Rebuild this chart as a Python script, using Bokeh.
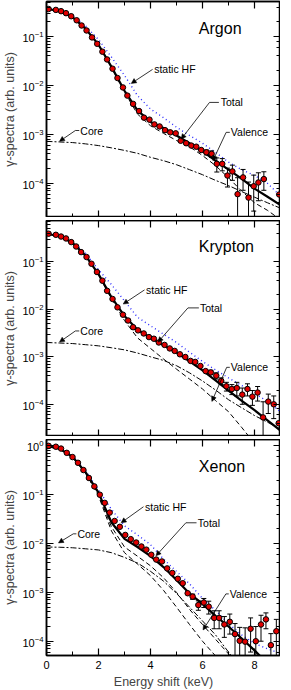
import numpy as np
from bokeh.plotting import figure
from bokeh.models import (LinearAxis, LogAxis, FixedTicker, Range1d, Arrow, NormalHead)
from bokeh.layouts import column
from bokeh.embed import file_html
from bokeh.resources import INLINE
from bokeh.core.properties import value

FONT = "Liberation Sans"

# ---------------- data ----------------
E_grid = [0, 0.5, 1, 1.5, 2, 2.5, 3, 3.5, 4, 4.5, 5, 5.5, 6, 6.5, 7, 7.5, 8, 8.5, 9]

x_ticks = [0, 2, 4, 6, 8]
x_minor = [1, 3, 5, 7]

# Argon
ar_E = [0.08, 0.36, 0.56, 0.75, 0.95, 1.16, 1.35, 1.54, 1.75, 1.95, 2.15, 2.33, 2.54, 2.73, 2.94,
        3.11, 3.33, 3.56, 3.75, 3.96, 4.15, 4.35, 4.56, 4.76, 4.97, 5.16, 5.37, 5.57, 5.76, 5.95,
        6.15, 6.35, 6.55, 6.76, 6.96, 7.15, 7.35, 7.56, 7.77, 7.97, 8.15, 8.36, 8.95]
ar_y = [0.365, 0.35, 0.33, 0.30, 0.26, 0.215, 0.168, 0.133, 0.096, 0.071, 0.049, 0.034, 0.022, 0.0142, 0.0091,
        0.0062, 0.0042, 0.0030, 0.0022, 0.0020, 0.0016, 0.00145, 0.00122, 0.0011, 0.00105, 0.00074, 0.00066,
        0.00059, 0.00056, 0.00048, 0.00043, 0.0004, 0.00025, 0.00025, 0.000144, 0.000175, 6e-5, 0.000132,
        5.1e-5, 8.7e-5, 0.000104, 0.000122, 5.9e-5]
ar_err = [0] * 30 + [5e-5, 6e-5, 8e-5, 7e-5, 6e-5, 6e-5, 7e-5, 6e-5, 5.5e-5, 6e-5, 6e-5, 5e-5, 0]
ar_total = [0.37, 0.33, 0.25, 0.145, 0.068, 0.024, 0.0078, 0.0031, 0.0018, 0.00135, 9.5e-4, 6.6e-4,
            4.5e-4, 2.9e-4, 1.9e-4, 1.25e-4, 7.8e-5, 5.3e-5, 3.6e-5]
ar_static = [0.37, 0.34, 0.27, 0.165, 0.087, 0.038, 0.016, 0.0062, 0.0033, 0.0022, 0.0014, 9.5e-4,
             6.6e-4, 4.3e-4, 2.7e-4, 1.9e-4, 1.45e-4, 1.0e-4, 5.5e-5]
ar_valence = [0.369, 0.329, 0.249, 0.144, 0.067, 0.0235, 0.0073, 0.0026, 0.0015, 0.00105, 7.5e-4, 5.6e-4,
              3.7e-4, 2.3e-4, 1.3e-4, 7e-5, 4e-5, 2.8e-5, 1.8e-5]
ar_core = [7.2e-4, 7.0e-4, 6.8e-4, 6.4e-4, 5.9e-4, 5.3e-4, 4.7e-4, 4.1e-4, 3.4e-4, 2.9e-4, 2.4e-4, 1.9e-4,
           1.5e-4, 1.15e-4, 9e-5, 6.8e-5, 5.2e-5, 4e-5, 3.1e-5]

# Krypton
kr_E = [0.08, 0.36, 0.56, 0.75, 0.95, 1.14, 1.33, 1.54, 1.73, 1.94, 2.15, 2.33, 2.54, 2.73, 2.94,
        3.14, 3.33, 3.52, 3.74, 3.94, 4.13, 4.32, 4.54, 4.74, 4.93, 5.13, 5.34, 5.54, 5.72, 5.92,
        6.12, 6.32, 6.53, 6.72, 6.92, 7.13, 7.32, 7.53, 7.73, 7.92, 8.12, 8.33, 8.53, 8.74, 8.93]
kr_y = [0.39, 0.37, 0.34, 0.31, 0.26, 0.21, 0.16, 0.126, 0.091, 0.061, 0.040, 0.0245, 0.0165, 0.011, 0.0077,
        0.0058, 0.0042, 0.0036, 0.0031, 0.0026, 0.0024, 0.0020, 0.00178, 0.0015, 0.00133, 0.00113, 0.00099,
        0.00082, 0.00078, 0.00064, 0.0005, 0.00047, 0.0004, 0.00031, 0.00024, 0.00021, 0.00022, 0.00016,
        0.00021, 0.000145, 0.000177, 5.3e-5, 0.000114, 0.0001, 4e-5]
kr_err = [0] * 31 + [5e-5, 6e-5, 5e-5, 5e-5, 5e-5, 7e-5, 6e-5, 6e-5, 5e-5, 6e-5, 6e-5, 5e-5, 5e-5, 0]
kr_total = [0.39, 0.345, 0.25, 0.135, 0.055, 0.018, 0.0072, 0.0037, 0.0025, 0.00175, 0.00122, 8.0e-4,
            5.2e-4, 3.2e-4, 1.95e-4, 1.2e-4, 7.5e-5, 4.6e-5, 2.8e-5]
kr_static = [0.39, 0.35, 0.26, 0.15, 0.068, 0.033, 0.015, 0.0068, 0.0045, 0.003, 0.002, 0.00125,
             8e-4, 5.3e-4, 3.6e-4, 2.5e-4, 1.7e-4, 1.15e-4, 7e-5]
kr_valence = [0.388, 0.343, 0.248, 0.133, 0.053, 0.0165, 0.0058, 0.0025, 0.0015, 9e-4, 5.5e-4, 3.4e-4,
              2.1e-4, 1.2e-4, 7e-5, 3.3e-5, 1.5e-5, 7e-6, 3.5e-6]
kr_core = [0.0020, 0.00195, 0.0019, 0.0018, 0.0017, 0.00155, 0.0014, 0.0012, 0.001, 8.4e-4, 6.5e-4, 4.6e-4,
           3.1e-4, 2.0e-4, 1.25e-4, 8.5e-5, 5.8e-5, 4.2e-5, 3e-5]

# Xenon
xe_E = [0.08, 0.36, 0.56, 0.78, 1.0, 1.21, 1.42, 1.63, 1.84, 2.05, 2.24, 2.43, 2.62, 2.82, 3.03,
        3.24, 3.45, 3.65, 3.84, 4.03, 4.22, 4.44, 4.64, 4.84, 5.05, 5.24, 5.43, 5.62, 5.84, 6.05,
        6.24, 6.45, 6.64, 6.84, 7.05, 7.25, 7.43, 7.64, 7.85, 8.05, 8.25, 8.44, 8.63, 8.84]
xe_y = [1.0, 0.96, 0.88, 0.72, 0.59, 0.45, 0.32, 0.22, 0.148, 0.10, 0.068, 0.043, 0.029, 0.022, 0.015,
        0.0123, 0.0105, 0.0087, 0.0075, 0.0059, 0.0047, 0.0043, 0.0031, 0.0025, 0.0019, 0.00154, 9.6e-4,
        8.2e-4, 5.5e-4, 6.2e-4, 5.1e-4, 3.0e-4, 3.0e-4, 2.2e-4, 2.5e-4, 1.4e-4, 1.02e-4, 9.8e-5, 1.8e-4,
        1.0e-4, 2.2e-4, 2.8e-4, 8.3e-5, 1.6e-4]
xe_err = [0] * 27 + [1.0e-4, 1.2e-4, 1.3e-4, 1.5e-4, 1.2e-4, 1.2e-4, 1.0e-4, 1.1e-4, 0.9e-4, 0.9e-4,
                     0.9e-4, 1.2e-4, 1.0e-4, 1.2e-4, 1.0e-4, 0.6e-4, 1.2e-4]
xe_total = [1.0, 0.88, 0.6, 0.29, 0.11, 0.027, 0.0125, 0.0085, 0.0055, 0.0033, 0.0018, 9.5e-4,
            5.8e-4, 3.3e-4, 2.0e-4, 1.15e-4, 6.5e-5, 3.5e-5, 2e-5]
xe_static = [1.0, 0.9, 0.62, 0.31, 0.125, 0.05, 0.023, 0.015, 0.0095, 0.0048, 0.0027, 0.0015,
             7.5e-4, 4.3e-4, 2.3e-4, 1.35e-4, 9e-5, 7e-5, 5.6e-5]
xe_valence = [0.99, 0.87, 0.59, 0.28, 0.1, 0.022, 0.0085, 0.0055, 0.0035, 0.002, 1.0e-3, 4.5e-4,
              2.2e-4, 1.1e-4, 5.5e-5, 2.7e-5, 1.3e-5, 6e-6, 3e-6]
xe_valence2 = [0.99, 0.87, 0.59, 0.28, 0.095, 0.018, 0.0065, 0.0038, 0.0022, 0.0011, 5e-4, 2.2e-4,
               1e-4, 5e-5, 2.3e-5, 1e-5, 5e-6, 2e-6, 1e-6]
xe_core = [0.0085, 0.0084, 0.0082, 0.0078, 0.0074, 0.0065, 0.0052, 0.004, 0.0027, 0.0017, 9.5e-4, 5e-4,
           2.6e-4, 1.35e-4, 6e-5, 2.7e-5, 1.2e-5, 5e-6, 2e-6]

FRAME_W = 234
FRAME_H = 216


def hide_labels(a):
    a.major_label_text_font_size = "1px"
    a.major_label_text_color = None
    a.major_label_standoff = 0


def make_panel(name, ymin, ymax, E, y, err, total, static, vals, core, ann, last, top_border):
    p = figure(frame_width=FRAME_W, frame_height=FRAME_H,
               x_range=Range1d(0, 9), y_range=Range1d(ymin, ymax), y_axis_type="log",
               output_backend="svg", toolbar_location=None,
               min_border_left=40, min_border_right=0, min_border_top=top_border,
               min_border_bottom=0)
    p.xgrid.visible = False
    p.ygrid.visible = False
    p.outline_line_color = "black"
    p.outline_line_width = 1.5
    p.background_fill_color = "white"
    p.border_fill_color = "white"

    xt = FixedTicker(ticks=x_ticks, minor_ticks=x_minor)
    ax = p.xaxis[0]
    ax.ticker = xt
    ay = p.yaxis[0]
    top = LinearAxis(ticker=xt)
    right = LogAxis()
    p.add_layout(top, "above")
    p.add_layout(right, "right")
    for a in (ax, ay, top, right):
        a.major_tick_in = 7
        a.major_tick_out = 0
        a.minor_tick_in = 4
        a.minor_tick_out = 0
        a.axis_line_width = 1.5
        a.major_tick_line_width = 1.2
        a.major_label_text_font = FONT
        a.major_label_text_font_size = "11px"
        a.major_label_text_color = "black"
        a.axis_label_text_font = FONT
        a.axis_label_text_font_style = "normal"
        a.axis_label_text_font_size = "12.5px"
    hide_labels(top)
    hide_labels(right)
    ay.axis_label = "γ-spectra (arb. units)"
    ay.axis_label_standoff = 2
    ay.major_label_standoff = 3
    if last:
        ax.axis_label = "Energy shift (keV)"
        ax.axis_label_standoff = 3
        ax.major_label_standoff = 5
    else:
        hide_labels(ax)

    # curves
    p.line(E_grid, static, line_color="#2a2aff", line_width=1.4, line_dash="1 3")
    p.line(E_grid, core, line_color="black", line_width=1, line_dash="6 2 2 2")
    for v in vals:
        p.line(E_grid, v, line_color="black", line_width=1, line_dash="5 3")
    p.line(E_grid, total, line_color="black", line_width=2.2)

    # error bars
    y_arr = np.array(y)
    e_arr = np.array(err)
    m = e_arr > 0
    lo = y_arr - e_arr
    lo_clip = np.where(lo > 0, lo, ymin * 0.1)
    hi = y_arr + e_arr
    Em = np.array(E)[m]
    p.segment(Em, lo_clip[m], Em, hi[m], line_color="black", line_width=1)
    p.scatter(Em, hi[m], marker="dash", size=5, line_color="black", line_width=1)
    ml = m & (lo > 0)
    p.scatter(np.array(E)[ml], lo[ml], marker="dash", size=5, line_color="black", line_width=1)

    # data points
    p.scatter(E, y, marker="circle", size=5.5, fill_color="#e00000", line_color="black",
              line_width=1)

    # panel name
    p.text(x=[ann["name"][0]], y=[ann["name"][1]], text=[name], text_font=value(FONT),
           text_font_size="16px", text_baseline="middle", text_align="left")

    # annotation labels with leaders
    for lab in ("static HF", "Total", "Valence", "Core"):
        (tx, ty), pts = ann[lab]
        p.text(x=[tx], y=[ty], text=[lab], text_font=value(FONT), text_font_size="10.5px",
               text_baseline="middle", text_align="left")
        for (x0, y0), (x1, y1) in zip(pts[:-2], pts[1:-1]):
            p.segment([x0], [y0], [x1], [y1], line_color="black", line_width=0.8)
        (x0, y0), (x1, y1) = pts[-2], pts[-1]
        p.add_layout(Arrow(end=NormalHead(size=5, fill_color="black", line_color="black",
                                          line_width=0.5),
                           x_start=x0, y_start=y0, x_end=x1, y_end=y1,
                           line_color="black", line_width=0.8))
    return p


ann_ar = {
    "name": (5.86, 0.146),
    "static HF": ((4.14, 0.0213), [(4.08, 0.0213), (3.26, 0.011)]),
    "Total": ((6.70, 0.0045), [(6.63, 0.0045), (6.27, 0.0045), (5.18, 8.0e-4)]),
    "Valence": ((7.09, 0.0011), [(7.05, 0.0011), (6.91, 0.0011), (6.40, 2.9e-4)]),
    "Core": ((1.30, 0.0012), [(1.26, 0.0012), (1.11, 0.0012), (0.5, 7.2e-4)]),
}
ann_kr = {
    "name": (5.86, 0.207),
    "static HF": ((3.83, 0.0256), [(3.77, 0.0256), (2.95, 0.0129)]),
    "Total": ((5.90, 0.0107), [(5.86, 0.0107), (5.44, 0.0107), (4.29, 0.00204)]),
    "Valence": ((7.09, 6.0e-4), [(7.05, 6.0e-4), (6.93, 6.0e-4), (6.36, 1.15e-4)]),
    "Core": ((1.30, 0.0035), [(1.26, 0.0035), (1.11, 0.0035), (0.5, 0.00204)]),
}
ann_xe = {
    "name": (5.86, 0.376),
    "static HF": ((3.79, 0.0567), [(3.73, 0.0567), (2.87, 0.0266)]),
    "Total": ((5.82, 0.0266), [(5.77, 0.0266), (5.36, 0.0266), (4.21, 0.0056)]),
    "Valence": ((7.05, 9.3e-4), [(7.01, 9.3e-4), (6.90, 9.3e-4), (6.02, 1.7e-4)]),
    "Core": ((1.19, 0.0158), [(1.15, 0.0158), (1.03, 0.0158), (0.46, 0.0103)]),
}

p1 = make_panel("Argon", 2.0e-5, 0.52, ar_E, ar_y, ar_err, ar_total, ar_static, [ar_valence],
                ar_core, ann_ar, False, 1)
p2 = make_panel("Krypton", 2.1e-5, 0.74, kr_E, kr_y, kr_err, kr_total, kr_static,
                [kr_valence], kr_core, ann_kr, False, 0)
p3 = make_panel("Xenon", 5.1e-5, 1.35, xe_E, xe_y, xe_err, xe_total, xe_static,
                [xe_valence, xe_valence2], xe_core, ann_xe, True, 0)

layout = column(p1, p2, p3, spacing=3)
open("out.html", "w").write(file_html(layout, INLINE))
